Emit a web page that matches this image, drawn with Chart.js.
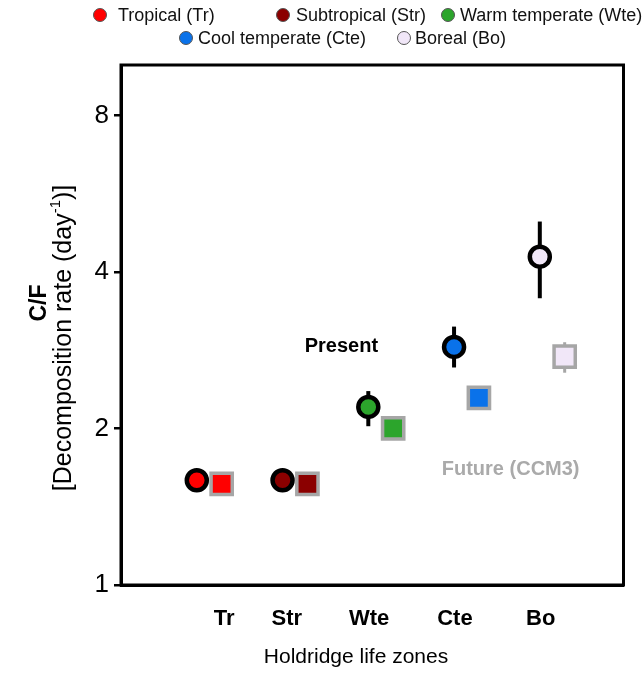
<!DOCTYPE html>
<html>
<head>
<meta charset="utf-8">
<script src="https://cdn.jsdelivr.net/npm/chart.js@4.4.0/dist/chart.umd.min.js"></script>
<style>
    html, body { margin: 0; padding: 0; background: #fff; }
    #wrap { position: relative; width: 642px; height: 673px; font-family: "Liberation Sans", Arial, sans-serif; }
    #legend { position: absolute; left: 0; top: 0; width: 642px; height: 55px; }
    .dot { position: absolute; width: 14px; height: 14px; border-radius: 50%; border: 1px solid #555; box-sizing: border-box; }
    .txt { position: absolute; font-size: 18px; line-height: 20px; color: #111; white-space: nowrap; }
</style>
</head>
<body>
<div id="wrap">
    <canvas id="chart" width="642" height="673" style="width:642px;height:673px"></canvas>
    <div id="legend"></div>
</div>
<script>
const zones = ['Tr', 'Str', 'Wte', 'Cte', 'Bo'];
const zoneNames = ['Tropical (Tr)', 'Subtropical (Str)', 'Warm temperate (Wte)', 'Cool temperate (Cte)', 'Boreal (Bo)'];
const zoneColors = ['#ff0000', '#8b0000', '#2ca52c', '#0a72ea', '#f1e7f8'];

// present (circles) and future CCM3 (squares), mean and error range
const presentMean = [1.59, 1.59, 2.20, 2.87, 4.28];
const presentLow = [1.56, 1.56, 2.02, 2.62, 3.56];
const presentHigh = [1.62, 1.62, 2.36, 3.14, 5.00];
const futureMean = [1.565, 1.565, 2.00, 2.29, 2.75];
const futureLow = [1.54, 1.54, 1.90, 2.22, 2.56];
const futureHigh = [1.59, 1.59, 2.10, 2.36, 2.93];

const yTicks = [1, 2, 4, 8];

const FONT = '"Liberation Sans", Arial, sans-serif';

// layout only: where each zone label sits relative to its circle
const labelShift = [0.32, 0.05, 0.01, 0.01, 0.01];
const squareShift = 0.29;

// html legend
let legendDotX = [93, 276, 441, 179, 397],
    legendTextX = [118, 296, 460, 198, 415],
    legendRowY = [15, 15, 15, 38, 38],
    legend = document.querySelector('#legend');
zoneNames.forEach(function (name, i) {
    let dot = document.createElement('div');
    dot.className = 'dot';
    dot.style.left = legendDotX[i] + 'px';
    dot.style.top = (legendRowY[i] - 7) + 'px';
    dot.style.background = zoneColors[i];
    legend.appendChild(dot);
    let txt = document.createElement('div');
    txt.className = 'txt';
    txt.style.left = legendTextX[i] + 'px';
    txt.style.top = (legendRowY[i] - 10) + 'px';
    txt.textContent = name;
    legend.appendChild(txt);
});

const errorBars = {
    id: 'errorBars',
    beforeDatasetsDraw(chart) {
        const ctx = chart.ctx, x = chart.scales.x, y = chart.scales.y;
        chart.data.datasets.forEach(function (ds) {
            ctx.save();
            ctx.strokeStyle = ds.barColor;
            ctx.lineWidth = ds.barWidth;
            ds.data.forEach(function (p, i) {
                let px = x.getPixelForValue(p.x);
                ctx.beginPath();
                ctx.moveTo(px, y.getPixelForValue(ds.low[i]));
                ctx.lineTo(px, y.getPixelForValue(ds.high[i]));
                ctx.stroke();
            });
            ctx.restore();
        });
    }
};

const frame = {
    id: 'frame',
    afterDraw(chart) {
        const ctx = chart.ctx, a = chart.chartArea;
        ctx.save();
        ctx.strokeStyle = '#000';
        ctx.lineWidth = 3;
        ctx.strokeRect(a.left, a.top, a.right - a.left, a.bottom - a.top);
        ctx.restore();
    }
};

// axis titles: rotated two line y title (second line with superscript) and x title
const axisTitles = {
    id: 'axisTitles',
    afterDraw(chart) {
        const ctx = chart.ctx;
        ctx.save();
        ctx.fillStyle = '#000';
        ctx.textBaseline = 'middle';
        ctx.textAlign = 'center';
        ctx.font = '21px ' + FONT;
        ctx.fillText('Holdridge life zones', 356, 657);
        ctx.restore();

        ctx.save();
        ctx.fillStyle = '#000';
        ctx.textBaseline = 'middle';
        ctx.translate(40, 303);
        ctx.rotate(-Math.PI / 2);
        ctx.font = 'bold 23px ' + FONT;
        ctx.textAlign = 'center';
        ctx.fillText('C/F', 0, 0);
        ctx.restore();

        ctx.save();
        ctx.fillStyle = '#000';
        ctx.textBaseline = 'middle';
        ctx.translate(64, 338);
        ctx.rotate(-Math.PI / 2);
        let a = '[Decomposition rate (day', s = '-1', b = ')]';
        ctx.font = '25px ' + FONT;
        let wa = ctx.measureText(a).width, wb = ctx.measureText(b).width;
        ctx.font = '15px ' + FONT;
        let ws = ctx.measureText(s).width;
        let x0 = -(wa + ws + wb) / 2;
        ctx.textAlign = 'left';
        ctx.font = '25px ' + FONT;
        ctx.fillText(a, x0, 0);
        ctx.fillText(b, x0 + wa + ws, 0);
        ctx.font = '15px ' + FONT;
        ctx.fillText(s, x0 + wa, -8);
        ctx.restore();
    }
};

const notes = [
    { text: 'Present', x: 2.686, y: 2.88, color: '#000' },
    { text: 'Future (CCM3)', x: 4.66, y: 1.665, color: '#aaaaaa' }
];
const noteText = {
    id: 'noteText',
    afterDraw(chart) {
        const ctx = chart.ctx, x = chart.scales.x, y = chart.scales.y;
        ctx.save();
        ctx.font = 'bold 20px ' + FONT;
        ctx.textAlign = 'center';
        ctx.textBaseline = 'middle';
        notes.forEach(function (n) {
            ctx.fillStyle = n.color;
            ctx.fillText(n.text, x.getPixelForValue(n.x), y.getPixelForValue(n.y));
        });
        ctx.restore();
    }
};

const ctx = document.getElementById('chart').getContext('2d');
new Chart(ctx, {
    type: 'scatter',
    data: {
        datasets: [{
            label: 'Present',
            data: zones.map((z, i) => ({ x: i + 1, y: presentMean[i] })),
            low: presentLow,
            high: presentHigh,
            barColor: '#000',
            barWidth: 4,
            pointStyle: 'circle',
            pointRadius: 10,
            pointHoverRadius: 10,
            pointBackgroundColor: zoneColors,
            pointBorderColor: '#000',
            pointBorderWidth: 4.5
        }, {
            label: 'Future (CCM3)',
            data: zones.map((z, i) => ({ x: i + 1 + squareShift, y: futureMean[i] })),
            low: futureLow,
            high: futureHigh,
            barColor: '#a6a6a6',
            barWidth: 3,
            pointStyle: 'rect',
            pointRadius: 15,
            pointHoverRadius: 15,
            pointBackgroundColor: zoneColors,
            pointBorderColor: '#a6a6a6',
            pointBorderWidth: 3.5
        }]
    },
    options: {
        responsive: false,
        animation: false,
        layout: { padding: { top: 65, right: 5, left: 0, bottom: 0 } },
        plugins: { legend: { display: false }, tooltip: { enabled: false } },
        scales: {
            x: {
                type: 'linear',
                min: 0.116,
                max: 5.976,
                afterBuildTicks: function (scale) {
                    scale.ticks = zones.map((z, i) => ({ value: i + 1 + labelShift[i] }));
                },
                afterFit: function (scale) { scale.height = 88; },
                grid: { display: false },
                border: { display: true, color: '#000', width: 3 },
                ticks: {
                    color: '#000',
                    padding: 13,
                    font: { family: FONT, size: 22, weight: 'bold' },
                    callback: function (v, i) { return zones[i]; }
                }
            },
            y: {
                type: 'logarithmic',
                min: 1,
                max: 10,
                afterBuildTicks: function (scale) { scale.ticks = yTicks.map(v => ({ value: v })); },
                afterFit: function (scale) { scale.width = 121; },
                grid: { drawOnChartArea: false, drawTicks: true, tickLength: 7, color: '#000', lineWidth: 2.5 },
                border: { display: true, color: '#000', width: 3 },
                ticks: {
                    color: '#000',
                    padding: 5,
                    font: { family: FONT, size: 26 },
                    callback: function (v) { return v; }
                }
            }
        }
    },
    plugins: [errorBars, frame, axisTitles, noteText]
});
</script>
</body>
</html>
